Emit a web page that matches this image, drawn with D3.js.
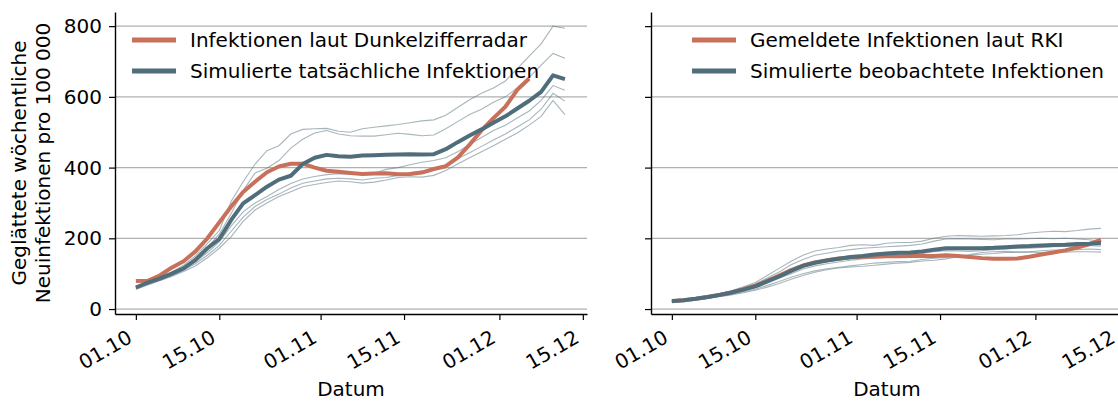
<!DOCTYPE html>
<html>
<head>
<meta charset="utf-8">
<script src="https://cdn.jsdelivr.net/npm/d3@7"></script>
<style>
body { margin: 0; background: #fff; }
text { font-family: "DejaVu Sans", sans-serif; }
</style>
</head>
<body>
<div id="chart"></div>
<script>
// days since 01.10.2020
var days = [0, 2, 4, 6, 8, 10, 12, 14, 16, 18, 20, 22, 24, 26, 28, 30, 32, 34, 36,
    38, 40, 42, 44, 46, 48, 50, 52, 54, 56, 58, 60, 62, 64, 66, 68, 70, 72];

var yTicks = [0, 200, 400, 600, 800];
var xTickLabels = ["01.10", "15.10", "01.11", "15.11", "01.12", "15.12"];
var xTickDays = [0, 14, 31, 45, 61, 75];

// left panel: Dunkelzifferradar vs. simulated true infections
var radarValues = [79, 80, 95, 117, 135, 163, 200, 245, 290, 331, 360, 387, 403, 411,
    411, 400, 391, 388, 385, 382, 383, 384, 381, 382, 386, 396, 404, 428, 465, 505,
    540, 572, 620, 652];
var trueValues = [61, 75, 86, 100, 115, 139, 172, 198, 252, 299, 322, 346, 366, 377,
    410, 428, 436, 432, 431, 434, 435, 436, 437, 438, 437, 438, 452, 472, 491, 508,
    527, 545, 567, 589, 614, 661, 650];
var trueRuns = [
    [64, 76, 88, 104, 124, 150, 185, 222, 305, 360, 410, 448, 462, 495, 508, 510, 511,
        503, 500, 510, 514, 518, 522, 527, 532, 535, 548, 570, 592, 610, 625, 645, 680,
        715, 750, 800, 794],
    [62, 74, 85, 100, 118, 142, 175, 212, 270, 335, 385, 398, 420, 455, 480, 498, 505,
        495, 490, 489, 489, 493, 497, 494, 490, 492, 510, 530, 550, 565, 585, 600, 625,
        655, 690, 723, 709],
    [60, 72, 84, 97, 113, 133, 160, 190, 235, 275, 300, 318, 338, 355, 368, 375, 380,
        383, 382, 380, 384, 395, 400, 408, 415, 420, 428, 445, 465, 485, 505, 520, 540,
        560, 590, 632, 619],
    [58, 70, 82, 94, 110, 128, 152, 180, 220, 260, 290, 310, 325, 342, 356, 362, 368,
        370, 368, 365, 370, 372, 378, 385, 390, 395, 405, 425, 442, 460, 478, 495, 515,
        535, 565, 610, 588],
    [55, 68, 80, 92, 106, 122, 145, 172, 205, 248, 280, 300, 318, 332, 346, 352, 358,
        362, 360, 356, 359, 365, 372, 374, 373, 378, 392, 410, 428, 445, 462, 480, 498,
        520, 545, 590, 550]
];

// right panel: RKI reported vs. simulated observed infections
var rkiValues = [22, 25, 29, 34, 40, 47, 56, 66, 80, 95, 110, 123, 132, 138, 143, 146,
    148, 148, 149, 149, 150, 150, 150, 152, 150, 147, 144, 142, 142, 143, 148, 154, 160,
    166, 174, 183, 196];
var observedValues = [23, 25, 29, 34, 40, 47, 55, 64, 78, 92, 108, 122, 131, 137, 142,
    147, 150, 154, 157, 159, 160, 163, 168, 172, 172, 172, 172, 173, 175, 177, 178, 180,
    181, 182, 184, 185, 187];
var observedRuns = [
    [22, 25, 30, 36, 43, 52, 63, 75, 95, 115, 135, 152, 164, 170, 174, 180, 182, 180,
        186, 188, 188, 192, 200, 206, 208, 207, 206, 207, 208, 210, 215, 218, 220, 219,
        222, 226, 228],
    [22, 25, 29, 35, 42, 50, 60, 71, 88, 105, 125, 140, 152, 158, 164, 168, 172, 174,
        176, 178, 180, 184, 192, 198, 199, 198, 197, 196, 198, 198, 199, 200, 199, 200,
        198, 196, 192],
    [22, 24, 28, 33, 39, 45, 53, 61, 74, 87, 100, 113, 122, 128, 133, 138, 142, 145,
        148, 150, 153, 157, 162, 165, 164, 163, 165, 168, 170, 172, 172, 174, 176, 177,
        178, 180, 178],
    [21, 23, 27, 31, 36, 42, 49, 56, 67, 78, 90, 100, 108, 114, 118, 122, 126, 130, 132,
        134, 135, 140, 144, 146, 150, 152, 155, 157, 160, 160, 162, 165, 167, 167, 168,
        170, 168],
    [21, 23, 26, 30, 35, 40, 46, 53, 62, 72, 84, 95, 104, 111, 116, 119, 121, 124, 127,
        130, 132, 136, 138, 142, 148, 154, 160, 162, 163, 162, 161, 160, 161, 161, 162,
        162, 161]
];

var orange = "#c8705a";
var slate = "#4f6d7a";
var width = 1118, height = 401;
var fontSize = "20px";

var svg = d3.select("#chart").append("svg")
    .attr("width", width)
    .attr("height", height)
    .style("display", "block");

svg.append("rect").attr("width", width).attr("height", height).attr("fill", "#fff");

var origin = Date.UTC(2020, 9, 1);
function toDate(d) { return new Date(origin + d * 864e5); }

var yScale = d3.scaleLinear().domain([-14, 840]).range([314, 12]);

function drawPanel(left, right, runs, refValues, simValues, labels, legendX, showYLabels) {
    var xScale = d3.scaleUtc()
        .domain([toDate(-3.5), toDate(75.7)])
        .range([left, right]);

    // horizontal grid
    svg.append("g").selectAll("line")
        .data(yTicks)
        .enter()
        .append("line")
        .attr("x1", left)
        .attr("x2", right)
        .attr("y1", function (d) { return yScale(d); })
        .attr("y2", function (d) { return yScale(d); })
        .attr("stroke", "#b0b0b0")
        .attr("stroke-width", 1.3);

    var line = d3.line()
        .x(function (d) { return xScale(toDate(d[0])); })
        .y(function (d) { return yScale(d[1]); });

    function pairs(values) {
        return values.map(function (v, i) { return [days[i], v]; });
    }

    runs.forEach(function (run) {
        svg.append("path")
            .datum(pairs(run))
            .attr("fill", "none")
            .attr("stroke", slate)
            .attr("stroke-opacity", 0.5)
            .attr("stroke-width", 1.1)
            .attr("d", line);
    });

    svg.append("path")
        .datum(pairs(refValues))
        .attr("fill", "none")
        .attr("stroke", orange)
        .attr("stroke-width", 4)
        .attr("stroke-linejoin", "round")
        .attr("d", line);

    svg.append("path")
        .datum(pairs(simValues))
        .attr("fill", "none")
        .attr("stroke", slate)
        .attr("stroke-width", 4)
        .attr("stroke-linejoin", "round")
        .attr("d", line);

    // y axis
    var yAxis = svg.append("g")
        .attr("transform", "translate(" + left + ",0)")
        .call(d3.axisLeft(yScale)
            .tickValues(yTicks)
            .tickSize(6)
            .tickSizeOuter(0)
            .tickPadding(7)
            .tickFormat(showYLabels ? d3.format("d") : function () { return ""; }));

    // x axis
    var xAxis = svg.append("g")
        .attr("transform", "translate(0,314)")
        .call(d3.axisBottom(xScale)
            .tickValues(xTickDays.map(toDate))
            .tickSize(6)
            .tickSizeOuter(0)
            .tickFormat(function (d, i) { return xTickLabels[i]; }));

    [yAxis, xAxis].forEach(function (ax) {
        ax.select(".domain").attr("stroke", "#000").attr("stroke-width", 1.4);
        ax.selectAll(".tick line").attr("stroke", "#000").attr("stroke-width", 1.2);
        ax.selectAll("text")
            .attr("fill", "#000")
            .style("font-size", fontSize)
            .style("font-family", "'DejaVu Sans', sans-serif");
    });

    xAxis.selectAll(".tick text")
        .attr("y", 0)
        .attr("dy", "0.72em")
        .attr("text-anchor", "end")
        .attr("transform", "translate(-10,15) rotate(-30)");

    // x axis title
    svg.append("text")
        .attr("x", (left + right) / 2)
        .attr("y", 396)
        .attr("text-anchor", "middle")
        .style("font-size", fontSize)
        .attr("fill", "#000")
        .text("Datum");

    // legend
    var legend = svg.append("g")
        .attr("transform", "translate(" + legendX + ",40)");

    legend.selectAll("line")
        .data([orange, slate])
        .enter()
        .append("line")
        .attr("x1", 0)
        .attr("x2", 44)
        .attr("y1", function (d, i) { return i * 31; })
        .attr("y2", function (d, i) { return i * 31; })
        .attr("stroke", function (d) { return d; })
        .attr("stroke-width", 5);

    legend.selectAll("text")
        .data(labels)
        .enter()
        .append("text")
        .attr("x", 58)
        .attr("y", function (d, i) { return i * 31; })
        .attr("dy", "0.35em")
        .style("font-size", fontSize)
        .attr("fill", "#000")
        .text(function (d) { return d; });
}

drawPanel(115, 587, trueRuns, radarValues, trueValues,
    ["Infektionen laut Dunkelzifferradar", "Simulierte tatsächliche Infektionen"], 132, true);
drawPanel(651, 1123, observedRuns, rkiValues, observedValues,
    ["Gemeldete Infektionen laut RKI", "Simulierte beobachtete Infektionen"], 692, false);

// y axis title (two lines)
svg.append("text")
    .attr("transform", "translate(26,163) rotate(-90)")
    .attr("text-anchor", "middle")
    .style("font-size", fontSize)
    .attr("fill", "#000")
    .text("Geglättete wöchentliche");

svg.append("text")
    .attr("transform", "translate(50,163) rotate(-90)")
    .attr("text-anchor", "middle")
    .style("font-size", fontSize)
    .attr("fill", "#000")
    .text("Neuinfektionen pro 100 000");
</script>
</body>
</html>
